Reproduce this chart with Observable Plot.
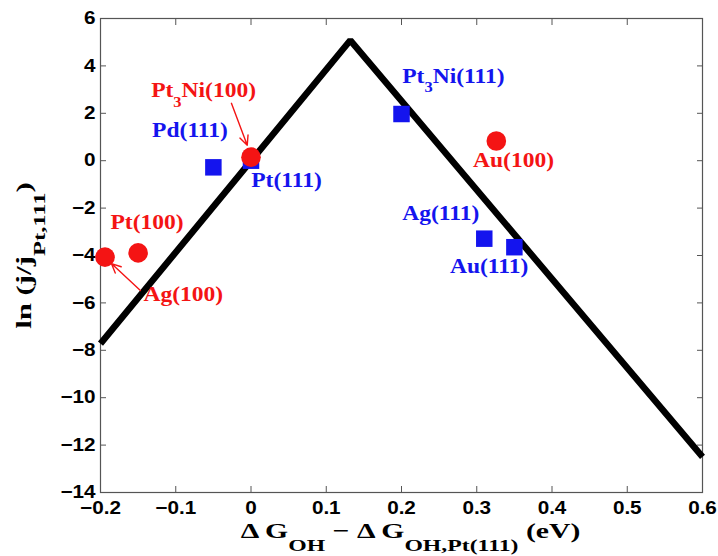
<!DOCTYPE html>
<html>
<head>
<meta charset="utf-8">
<script src="https://cdn.jsdelivr.net/npm/d3@7"></script>
<script src="https://cdn.jsdelivr.net/npm/@observablehq/plot@0.6"></script>
<style>
  html, body { margin: 0; padding: 0; background: #fff; }
  #chart svg { display: block; }
</style>
</head>
<body>
<div id="chart"></div>
<script>
// Volcano relation: ln(j/j_Pt(111)) against OH binding energy relative to Pt(111)
const volcanoX = [-0.2, 0.132, 0.6];
const volcanoY = [-7.72, 5.08, -12.5];

// (100) surfaces, drawn as red circles
const names100 = ["Pt3Ni(100)", "Pt(100)", "Ag(100)", "Au(100)"];
const dG100 = [0.0, -0.15, -0.194, 0.326];
const lnj100 = [0.15, -3.89, -4.07, 0.83];

// (111) surfaces, drawn as blue squares
const names111 = ["Pt(111)", "Pd(111)", "Pt3Ni(111)", "Ag(111)", "Au(111)"];
const dG111 = [0.0, -0.05, 0.2, 0.31, 0.35];
const lnj111 = [0.0, -0.28, 1.97, -3.29, -3.65];

// Annotations: text (_{..} marks a subscript), baseline-left anchor in data units
const labelText = ["Pt_{3}Ni(100)", "Pd(111)", "Pt(111)", "Pt(100)", "Ag(100)", "Pt_{3}Ni(111)", "Au(100)", "Ag(111)", "Au(111)"];
const labelX = [-0.1327, -0.1314, 0.0003, -0.1868, -0.143, 0.201, 0.295, 0.201, 0.2644];
const labelY = [2.675, 0.985, -1.13, -2.90, -5.94, 3.27, -0.28, -2.52, -4.72];
const labelFacet = ["100", "111", "111", "100", "100", "111", "100", "111", "111"];

// Pointer arrows (from label to marker)
const arrowX1 = [-0.026, -0.147];
const arrowY1 = [2.42, -5.48];
const arrowX2 = [-0.005, -0.1855];
const arrowY2 = [0.65, -4.34];

// Axis ticks and titles
const xTicks = [-0.2, -0.1, 0, 0.1, 0.2, 0.3, 0.4, 0.5, 0.6];
const yTicks = [-14, -12, -10, -8, -6, -4, -2, 0, 2, 4, 6];
const xTitle = "Δ G_{OH} − Δ G_{OH,Pt(111)} (eV)";
const yTitle = "ln (j/j_{Pt,111})";

const RED = "#f41414";
const BLUE = "#1414ee";
const SERIF = "'Liberation Serif', 'Times New Roman', serif";
const SANS = "'Liberation Sans', Arial, sans-serif";

const volcano = volcanoX.map((x, i) => ({x, y: volcanoY[i]}));
const pts100 = names100.map((name, i) => ({name, x: dG100[i], y: lnj100[i]}));
const pts111 = names111.map((name, i) => ({name, x: dG111[i], y: lnj111[i]}));
const labels = labelText.map((text, i) => ({text, x: labelX[i], y: labelY[i], facet: labelFacet[i]}));
const arrows = arrowX1.map((x1, i) => ({x1, y1: arrowY1[i], x2: arrowX2[i], y2: arrowY2[i]}));

const tickFmt = d3.format("~g");
const tickStyle = {stroke: "#555", tickFormat: () => "", label: null, tickSize: 6};

const chart = Plot.plot({
  width: 718,
  height: 556,
  marginLeft: 100,
  marginRight: 16,
  marginTop: 18,
  marginBottom: 64,
  style: {background: "#fff", overflow: "visible"},
  x: {domain: [-0.2, 0.6]},
  y: {domain: [-14, 6]},
  marks: [
    // inward ticks on all four sides (box style): axes shifted into the frame
    Plot.axisX({...tickStyle, ticks: xTicks, anchor: "bottom", dy: -6}),
    Plot.axisX({...tickStyle, ticks: xTicks, anchor: "top", dy: 6}),
    Plot.axisY({...tickStyle, ticks: yTicks, anchor: "left", dx: 6}),
    Plot.axisY({...tickStyle, ticks: yTicks, anchor: "right", dx: -6}),
    // tick labels
    Plot.axisX({ticks: xTicks, tickFormat: tickFmt, anchor: "bottom", tickSize: 0, tickPadding: 9, label: null,
      fontSize: 18, fontWeight: "bold", fontFamily: SANS, fill: "#000", ariaDescription: "x tick labels"}),
    Plot.axisY({ticks: yTicks, tickFormat: tickFmt, anchor: "left", tickSize: 0, tickPadding: 5, label: null,
      fontSize: 18, fontWeight: "bold", fontFamily: SANS, fill: "#000", ariaDescription: "y tick labels"}),
    Plot.frame({stroke: "#555", strokeWidth: 1.2}),
    // volcano lines
    Plot.line(volcano, {x: "x", y: "y", stroke: "#000", strokeWidth: 6.5,
      strokeLinejoin: "miter", strokeLinecap: "butt"}),
    Plot.dot(pts111, {x: "x", y: "y", symbol: "square", r: 9.3, fill: BLUE, stroke: null}),
    Plot.dot(pts100, {x: "x", y: "y", symbol: "circle", r: 9.8, fill: RED, stroke: null}),
    Plot.arrow(arrows, {x1: "x1", y1: "y1", x2: "x2", y2: "y2", stroke: RED,
      strokeWidth: 1.4, headLength: 11, headAngle: 50}),
    Plot.text(labels, {x: "x", y: "y", text: "text", textAnchor: "start", lineAnchor: "bottom",
      fill: d => d.facet === "100" ? RED : BLUE, fontSize: 22, fontWeight: "bold",
      fontFamily: SERIF, ariaDescription: "surface labels"}),
    Plot.text([xTitle], {frameAnchor: "bottom", textAnchor: "middle", lineAnchor: "bottom",
      dy: 45, dx: 9, fontSize: 22, fontWeight: "bold", fontFamily: SERIF, fill: "#000",
      ariaDescription: "x title"}),
    Plot.text([yTitle], {frameAnchor: "left", rotate: -90, textAnchor: "middle", lineAnchor: "bottom",
      dx: -70, fontSize: 22, fontWeight: "bold", fontFamily: SERIF, fill: "#000",
      ariaDescription: "y title"})
  ]
});

document.getElementById("chart").appendChild(chart);

// Turn _{...} into subscript tspans and widen glyphs horizontally
const NS = "http://www.w3.org/2000/svg";
function richText(desc, {scaleX = 1, subScale = 0.8, subShift = 0.4}) {
  const group = chart.querySelector(`g[aria-description="${desc}"]`);
  if (!group) return;
  group.querySelectorAll("text").forEach(t => {
    const fs = parseFloat(getComputedStyle(t).fontSize);
    const s = t.textContent;
    if (s.includes("_{")) {
      const parts = s.split(/(_\{[^}]*\})/).filter(p => p.length);
      t.textContent = "";
      let lowered = false;
      const shift = subShift * fs;
      for (const p of parts) {
        const ts = document.createElementNS(NS, "tspan");
        if (p.startsWith("_{")) {
          ts.setAttribute("font-size", fs * subScale);
          ts.setAttribute("dy", shift);
          lowered = true;
          ts.textContent = p.slice(2, -1);
        } else {
          if (lowered) ts.setAttribute("dy", -shift);
          lowered = false;
          ts.textContent = p;
        }
        t.appendChild(ts);
      }
      t.style.whiteSpace = "pre";
    }
    if (scaleX !== 1) {
      const tr = t.getAttribute("transform") || "";
      t.setAttribute("transform", `${tr} scale(${scaleX},1)`);
    }
  });
}
richText("surface labels", {scaleX: 1.07, subScale: 0.7, subShift: 0.42});
richText("x title", {scaleX: 1.35, subScale: 0.8, subShift: 0.6});
richText("y title", {scaleX: 1.4, subScale: 0.8, subShift: 0.68});
richText("x tick labels", {scaleX: 1.15});
richText("y tick labels", {scaleX: 1.15});
</script>
</body>
</html>
